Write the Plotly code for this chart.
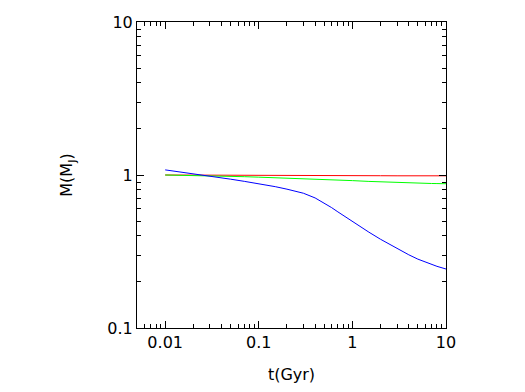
import plotly.graph_objects as go

t_gyr = [0.01, 0.015, 0.02, 0.03, 0.05, 0.07, 0.1, 0.15, 0.2, 0.3, 0.4, 0.5, 0.6,
         0.7, 0.8, 1.0, 1.5, 2.0, 3.0, 4.0, 5.0, 6.0, 7.0, 8.0, 10.0]
m_red = [1.0, 1.0, 0.999, 0.999, 0.998, 0.997, 0.996, 0.995, 0.994, 0.993, 0.992, 0.992,
         0.991, 0.991, 0.99, 0.99, 0.989, 0.989, 0.988, 0.988, 0.988, 0.988, 0.988, 0.988, 0.988]
m_green = [1.0, 0.997, 0.994, 0.989, 0.981, 0.975, 0.968, 0.961, 0.955, 0.947, 0.941, 0.936,
           0.932, 0.928, 0.925, 0.919, 0.908, 0.901, 0.892, 0.887, 0.884, 0.882, 0.88, 0.879, 0.877]
m_blue = [1.08, 1.045, 1.02, 0.984, 0.939, 0.909, 0.877, 0.839, 0.808, 0.760, 0.708, 0.658,
          0.612, 0.574, 0.543, 0.495, 0.423, 0.380, 0.330, 0.301, 0.282, 0.270, 0.261, 0.253, 0.243]

x_ticks = [0.01, 0.1, 1, 10]
x_ticklabels = ["0.01", "0.1", "1", "10"]
y_ticks = [0.1, 1, 10]
y_ticklabels = ["0.1", "1", "10"]

fig = go.Figure()
for ys, col in [(m_red, "#ff0000"), (m_green, "#00ff00"), (m_blue, "#0000ff")]:
    fig.add_trace(go.Scatter(x=t_gyr, y=ys, mode="lines",
                             line=dict(color=col, width=1), showlegend=False))

axis_common = dict(type="log", showgrid=False, zeroline=False, showline=True,
                   linecolor="black", linewidth=1, mirror="allticks",
                   ticks="inside", ticklen=7, tickcolor="black", tickwidth=1,
                   minor=dict(ticks="inside", ticklen=4, tickcolor="black",
                              tickwidth=1, dtick="D1", showgrid=False),
                   tickfont=dict(family="DejaVu Sans", size=16, color="black"))

fig.update_xaxes(**axis_common, range=[-2.301, 1], tickvals=x_ticks,
                 ticktext=x_ticklabels,
                 title=dict(text="t(Gyr)", font=dict(family="DejaVu Sans", size=16, color="black"),
                            standoff=17))
fig.update_yaxes(**axis_common, range=[-1, 1], tickvals=y_ticks,
                 ticktext=y_ticklabels,
                 title=dict(text="M(M<sub>J</sub>)", font=dict(family="DejaVu Sans", size=16, color="black"),
                            standoff=30))

fig.update_layout(width=525, height=392, margin=dict(l=137, r=79, t=22, b=62),
                  plot_bgcolor="white", paper_bgcolor="white",
                  font=dict(family="DejaVu Sans", size=16, color="black"))

fig.write_html("out.html")
